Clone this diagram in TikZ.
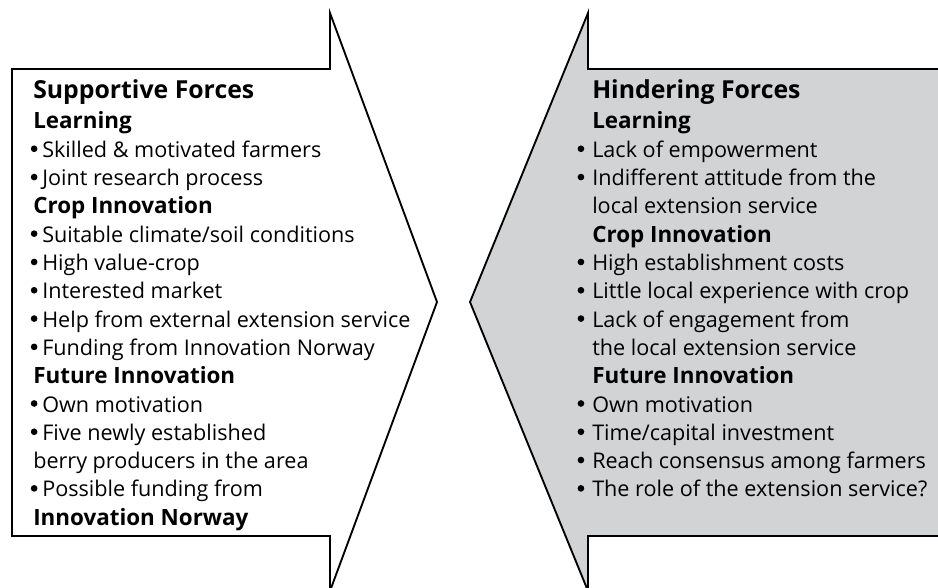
\documentclass[tikz,border=0pt]{standalone}
\usepackage{fontspec}
\setmainfont{Open Sans}
\usepackage{xcolor}
\definecolor{hindergray}{RGB}{209,211,212}
\newcommand{\dotbul}{\raisebox{3.9pt}{\tikz\fill (0pt,0pt) circle (2.5pt);}}
\newcommand{\lbul}{\llap{\dotbul\hspace{3.6pt}}}
\newcommand{\rbul}{\llap{\dotbul\hspace{6pt}}}

\begin{document}
\begin{tikzpicture}[x=0.75pt, y=-0.75pt,
    title/.style={anchor=base west, inner sep=0, font=\fontsize{18.6}{22}\selectfont\bfseries},
    sub/.style={anchor=base west, inner sep=0, font=\fontsize{16.8}{20}\selectfont\bfseries},
    item/.style={anchor=base west, inner sep=0, font=\fontsize{16.2}{20}\selectfont}]
    \useasboundingbox (0,0) rectangle (938,588);

    % Supportive arrow (points right)
    \draw[line width=1.4pt, fill=white] (12,69) -- (330,69) -- (330,13) -- (437,302)
        -- (330,591) -- (330,536) -- (12,536) -- cycle;

    % Hindering arrow (points left)
    \draw[line width=1.4pt, fill=hindergray] (942,69) -- (588,69) -- (588,13) -- (470,302)
        -- (588,591) -- (588,536) -- (942,536) -- cycle;

    % Supportive forces
    \node[title] (suptitle) at (33,99) {Supportive Forces};
    \node[sub]  (suplearn) at (33,129) {Learning};
    \node[item] (sup1) at (42,157.3) {\lbul Skilled \& motivated farmers};
    \node[item] (sup2) at (42,185.6) {\lbul Joint research process};
    \node[sub]  (supcrop) at (33,213.9) {Crop Innovation};
    \node[item] (sup3) at (42,242.2) {\lbul Suitable climate/soil conditions};
    \node[item] (sup4) at (42,270.5) {\lbul High value-crop};
    \node[item] (sup5) at (42,298.8) {\lbul Interested market};
    \node[item] (sup6) at (42,327.1) {\lbul Help from external extension service};
    \node[item] (sup7) at (42,355.4) {\lbul Funding from Innovation Norway};
    \node[sub]  (supfut) at (33,383.7) {Future Innovation};
    \node[item] (sup8) at (42,412) {\lbul Own motivation};
    \node[item] (sup9) at (42,440.3) {\lbul Five newly established};
    \node[item] (sup9b) at (33,468.6) {berry producers in the area};
    \node[item] (sup10) at (42,496.9) {\lbul Possible funding from};
    \node[sub]  (sup10b) at (33,525.2) {Innovation Norway};

    % Hindering forces
    \node[title] (hintitle) at (592,99) {Hindering Forces};
    \node[sub]  (hinlearn) at (592,129) {Learning};
    \node[item] (hin1) at (592,157.3) {\rbul Lack of empowerment};
    \node[item] (hin2) at (592,185.6) {\rbul Indifferent attitude from the};
    \node[item] (hin2b) at (592,213.9) {local extension service};
    \node[sub]  (hincrop) at (592,242.2) {Crop Innovation};
    \node[item] (hin3) at (592,270.5) {\rbul High establishment costs};
    \node[item] (hin4) at (592,298.8) {\rbul Little local experience with crop};
    \node[item] (hin5) at (592,327.1) {\rbul Lack of engagement from};
    \node[item] (hin5b) at (592,355.4) {the local extension service};
    \node[sub]  (hinfut) at (592,383.7) {Future Innovation};
    \node[item] (hin6) at (592,412) {\rbul Own motivation};
    \node[item] (hin7) at (592,440.3) {\rbul Time/capital investment};
    \node[item] (hin8) at (592,468.6) {\rbul Reach consensus among farmers};
    \node[item] (hin9) at (592,496.9) {\rbul The role of the extension service?};
\end{tikzpicture}
\end{document}
